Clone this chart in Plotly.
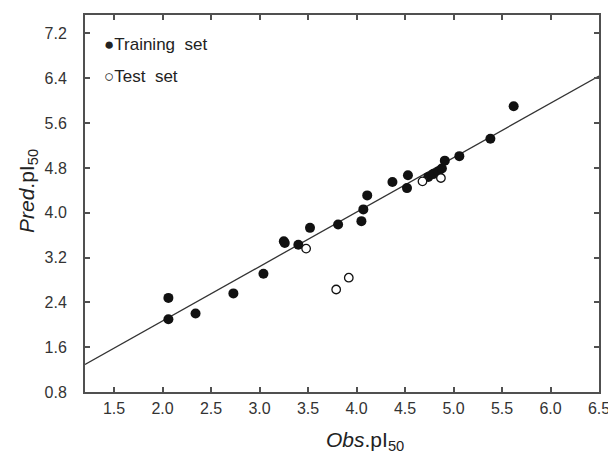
import plotly.graph_objects as go

# Training set (observed, predicted)
train_obs = [2.06, 2.06, 2.34, 2.73, 3.04, 3.25, 3.26, 3.40, 3.52, 3.81, 4.05, 4.07, 4.11,
             4.37, 4.52, 4.53, 4.74, 4.79, 4.84, 4.88, 4.91, 5.06, 5.38, 5.62]
train_pred = [2.48, 2.10, 2.20, 2.56, 2.91, 3.49, 3.46, 3.43, 3.73, 3.79, 3.85, 4.06, 4.31,
              4.55, 4.44, 4.67, 4.64, 4.69, 4.73, 4.79, 4.93, 5.01, 5.32, 5.90]

# Test set
test_obs = [3.48, 3.79, 3.92, 4.68, 4.87]
test_pred = [3.36, 2.63, 2.84, 4.56, 4.62]

# Regression line
slope = 0.972
intercept = 0.124
x_range = [1.2, 6.5]
y_range = [0.8, 7.53]
line_x = x_range
line_y = [slope * v + intercept for v in line_x]

FONT = "Liberation Sans, Arial, sans-serif"

fig = go.Figure()
fig.add_trace(go.Scatter(x=line_x, y=line_y, mode="lines",
                         line=dict(color="#333333", width=1.3), showlegend=False, hoverinfo="skip"))
fig.add_trace(go.Scatter(x=train_obs, y=train_pred, mode="markers",
                         marker=dict(color="#111111", size=10, line=dict(width=0)), showlegend=False))
fig.add_trace(go.Scatter(x=test_obs, y=test_pred, mode="markers",
                         marker=dict(color="white", size=8.5, line=dict(color="#111111", width=1.3)),
                         showlegend=False))

axis_common = dict(showline=True, linecolor="#505050", linewidth=2, mirror="ticks",
                   ticks="inside", ticklen=5, tickwidth=1.5, tickcolor="#505050",
                   showgrid=False, zeroline=False, automargin=False,
                   tickfont=dict(family=FONT, size=16, color="#333333"))

fig.update_xaxes(range=x_range, tick0=1.5, dtick=0.5, tickformat=".1f",
                 ticklabelstandoff=1, **axis_common)
fig.update_yaxes(range=y_range, tick0=0.8, dtick=0.8, tickformat=".1f",
                 ticklabelstandoff=13, **axis_common)

TITLE_FONT = dict(family=FONT, size=21, color="#222222")
fig.add_annotation(x=0.545, y=-0.13, xref="paper", yref="paper", xanchor="center", yanchor="middle",
                   text="<i>Obs</i>.pI<sub>50</sub>", showarrow=False, font=TITLE_FONT)
fig.add_annotation(x=-0.111, y=0.533, xref="paper", yref="paper", xanchor="center", yanchor="middle",
                   text="<i>Pred</i>.pI<sub>50</sub>", showarrow=False, font=TITLE_FONT, textangle=-90)

fig.add_annotation(x=0.033, y=0.922, xref="paper", yref="paper", xanchor="left", yanchor="middle",
                   text="●Training  set", showarrow=False,
                   font=dict(family=FONT, size=17, color="#222222"))
fig.add_annotation(x=0.033, y=0.838, xref="paper", yref="paper", xanchor="left", yanchor="middle",
                   text="○Test  set", showarrow=False,
                   font=dict(family=FONT, size=17, color="#222222"))

fig.update_layout(width=608, height=445, margin=dict(l=77, r=17, t=7, b=61),
                  plot_bgcolor="white", paper_bgcolor="white", font=dict(family=FONT))

fig.write_html("out.html")
